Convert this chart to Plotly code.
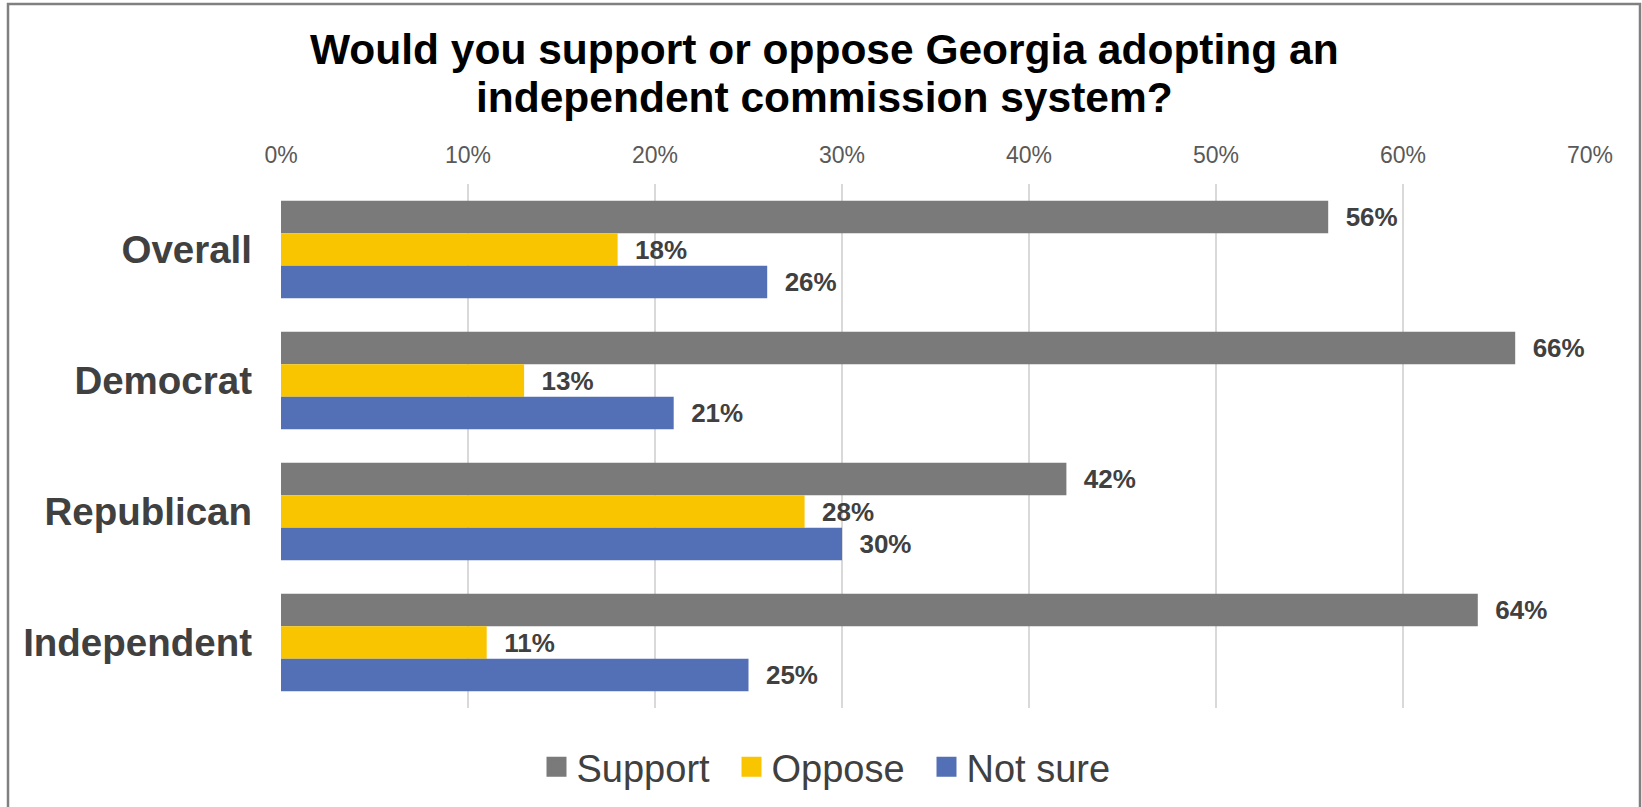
import plotly.graph_objects as go

categories = ["Overall", "Democrat", "Republican", "Independent"]
series_names = ["Support", "Oppose", "Not sure"]
support = [56, 66, 42, 64]
oppose = [18, 13, 28, 11]
not_sure = [26, 21, 30, 25]
x_ticks = [0, 10, 20, 30, 40, 50, 60, 70]
x_tick_labels = ["0%", "10%", "20%", "30%", "40%", "50%", "60%", "70%"]
title_lines = ["Would you support or oppose Georgia adopting an",
               "independent commission system?"]

colors = ["#7a7a7a", "#f9c400", "#5370b6"]
values = [support, oppose, not_sure]

W, H = 1642, 807
L, R, T, B = 281, 52, 184, 99
FONT = "Liberation Sans, Arial, sans-serif"

fig = go.Figure()
for name, vals, col in zip(series_names, values, colors):
    fig.add_trace(go.Bar(
        y=categories, x=vals, orientation="h", name=name,
        marker=dict(color=col, line=dict(width=0)),
        text=["\u00a0\u00a0" + f"{v}%" for v in vals],
        textposition="outside",
        textfont=dict(family=FONT, size=26, color="#404040", weight="bold"),
        cliponaxis=False, showlegend=False,
    ))
# legend entries with larger square swatches
for name, col in zip(series_names, colors):
    fig.add_trace(go.Scatter(
        x=[None], y=[None], mode="markers", name=name,
        marker=dict(symbol="square", size=16, color=col, line=dict(width=4, color=col)),
        showlegend=True,
    ))

pw = W - L - R
ph = H - T - B
def px_x(p):
    return (p - L) / pw
def px_y(p):
    return (H - B - p) / ph

fig.add_shape(type="rect", xref="paper", yref="paper",
              x0=px_x(8), x1=px_x(1640), y0=px_y(830), y1=px_y(4),
              line=dict(color="#808080", width=2.5), fillcolor="rgba(0,0,0,0)", layer="below")

for line, yc in zip(title_lines, [49, 98]):
    fig.add_annotation(text=line, xref="paper", yref="paper",
                       x=px_x(824), y=px_y(yc), xanchor="center", yanchor="middle",
                       showarrow=False,
                       font=dict(family=FONT, size=42.5, color="#000000", weight="bold"))

fig.update_layout(
    width=W, height=H,
    margin=dict(l=L, r=R, t=T, b=B),
    paper_bgcolor="white", plot_bgcolor="white",
    barmode="group", bargap=0.254, bargroupgap=0,
    hovermode=False,
    xaxis=dict(side="top", range=[0, 70], tickvals=x_ticks, ticktext=x_tick_labels,
               showgrid=True, gridcolor="#d9d9d9", gridwidth=2,
               zeroline=False, showline=False, ticks="",
               ticklabelstandoff=15,
               tickfont=dict(family=FONT, size=23, color="#595959"),
               fixedrange=True),
    yaxis=dict(categoryorder="array", categoryarray=categories, autorange="reversed",
               showgrid=False, zeroline=False, showline=False, ticks="",
               ticklabelstandoff=28, fixedrange=True,
               tickfont=dict(family=FONT, size=38.5, color="#404040", weight="bold")),
    legend=dict(orientation="h", xref="container", x=0.5 + 8 / W, xanchor="center",
                yref="container", y=1 - 767 / H, yanchor="middle",
                font=dict(family=FONT, size=38, color="#404040"),
                entrywidth=150, itemclick=False, itemdoubleclick=False),
    showlegend=True,
)

fig.write_html("out.html", config={"displayModeBar": False},
               post_script="document.body.style.margin='0';document.body.style.overflow='hidden';")
